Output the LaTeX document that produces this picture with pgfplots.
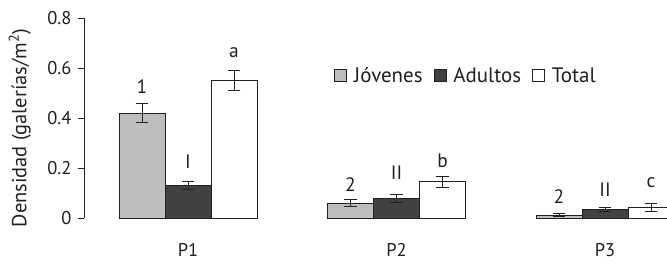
\documentclass[border=0pt]{standalone}
\usepackage{pgfplots}
\pgfplotsset{compat=1.18}
\usepackage{fontspec}
\setmainfont{PT Sans}
\definecolor{jov}{HTML}{BCBEC0}
\definecolor{adu}{HTML}{414042}
\definecolor{edge}{HTML}{231F20}
\begin{document}
\begin{tikzpicture}[x=1bp,y=1bp]
\useasboundingbox (0,0) rectangle (667,263);
\begin{axis}[
  at={(84bp,45bp)}, anchor=south west,
  scale only axis, width=583bp, height=200bp,
  xmin=-0.4988, xmax=2.2974, ymin=0, ymax=0.8,
  enlargelimits=false, clip=false,
  axis x line=none, axis y line*=left,
  y axis line style={edge, line width=0.9bp, -},
  ytick={0,0.2,0.4,0.6,0.8},
  yticklabels={0,0.2,0.4,0.6,0.8},
  ytick style={edge, line width=0.9bp},
  tick align=outside, major tick length=6bp,
  yticklabel style={text=edge, font=\fontsize{18.5}{22}\selectfont, xshift=-3bp},
  ylabel={Densidad (galerías/m\textsuperscript{2})},
  ylabel style={text=edge, font=\fontsize{20.5}{24}\selectfont, at={(axis description cs:-0.11,0.45)}, anchor=center},
  ybar=0pt, bar width=46bp,
  error bars/y dir=both, error bars/y explicit,
  error bars/error bar style={edge, line width=1bp},
  error bars/error mark options={edge, line width=1bp, mark size=6.3bp, rotate=90},
  legend style={at={(0.424,0.775)}, anchor=north west, draw=none, fill=none,
    legend columns=3, font=\fontsize{21}{25}\selectfont, text=edge,
    /tikz/every odd column/.append style={column sep=5bp},
    /tikz/every even column/.append style={column sep=9bp}},
  legend image code/.code={\draw[#1, line width=0.8bp] (0bp,-6bp) rectangle (12bp,6bp);},
]
\addplot[fill=jov, draw=edge, line width=0.9bp] coordinates {
  (0,0.42) +- (0,0.038)
  (1,0.06) +- (0,0.014)
  (2,0.012) +- (0,0.005)
};
\addplot[fill=adu, draw=edge, line width=0.9bp] coordinates {
  (0,0.13) +- (0,0.017)
  (1,0.08) +- (0,0.016)
  (2,0.036) +- (0,0.008)
};
\addplot[fill=white, draw=edge, line width=0.9bp] coordinates {
  (0,0.55) +- (0,0.04)
  (1,0.145) +- (0,0.022)
  (2,0.042) +- (0,0.015)
};
\legend{Jóvenes, Adultos, Total}
\begin{scope}[every node/.style={text=edge, font=\fontsize{19.5}{23}\selectfont}]
\node at (axis cs:-0.2206,0.524) {1};
\node at (axis cs:0,0.224) {I};
\node at (axis cs:0.2206,0.66) {a};
\node at (axis cs:0.7794,0.132) {2};
\node at (axis cs:1,0.18) {II};
\node at (axis cs:1.2206,0.228) {b};
\node at (axis cs:1.7794,0.084) {2};
\node at (axis cs:2,0.112) {II};
\node at (axis cs:2.2206,0.14) {c};
\end{scope}
\begin{scope}[every node/.style={text=edge, font=\fontsize{18.5}{22}\selectfont, anchor=base}]
\node at (axis cs:0,-0.155) {P1};
\node at (axis cs:1,-0.155) {P2};
\node at (axis cs:2,-0.155) {P3};
\end{scope}
\end{axis}
\end{tikzpicture}
\end{document}
